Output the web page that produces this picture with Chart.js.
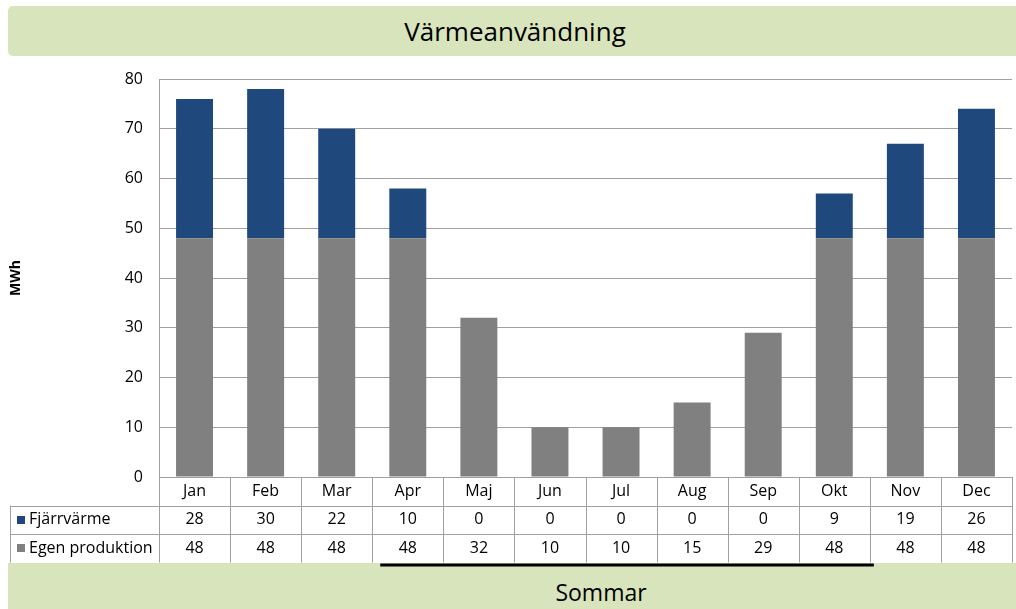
<!DOCTYPE html>
<html>
<head>
<meta charset="utf-8">
<script src="https://cdn.jsdelivr.net/npm/chart.js@4"></script>
<style>
  body { margin: 0; background: #fff; }
  #wrap { position: relative; width: 1016px; height: 609px; overflow: hidden; }
  canvas { position: absolute; left: 0; top: 0; }
  .box {
    position: absolute; background: #D8E4BC; color: #000;
    font-family: "Open Sans", sans-serif; text-align: center;
  }
  #title { left: 8px; top: 6px; width: 1014px; height: 50px; line-height: 50px; font-size: 26px; border-radius: 5px; }
  #sommar { left: 8px; top: 563px; width: 1186px; height: 52px; line-height: 58px; font-size: 23px; }
</style>
</head>
<body>
<div id="wrap">
  <div class="box" id="title">Värmeanvändning</div>
  <div class="box" id="sommar">Sommar</div>
  <canvas id="chart" width="1016" height="609"></canvas>
</div>
<script>
// Data
const months = ['Jan', 'Feb', 'Mar', 'Apr', 'Maj', 'Jun', 'Jul', 'Aug', 'Sep', 'Okt', 'Nov', 'Dec'];
const fjarrvarme = [28, 30, 22, 10, 0, 0, 0, 0, 0, 9, 19, 26];
const egenProduktion = [48, 48, 48, 48, 32, 10, 10, 15, 29, 48, 48, 48];
const yTicks = [0, 10, 20, 30, 40, 50, 60, 70, 80];
const summerMonths = ['Apr', 'Okt'];

const FONT = '"Open Sans", sans-serif';
const LINE = '#a0a0a0';

// Tabell under diagrammet + y-axelns titel + sommarlinje
const dataTable = {
  id: 'dataTable',
  afterDraw(chart) {
    const ctx = chart.ctx;
    const xs = chart.scales.x;
    const area = chart.chartArea;
    const colW = (area.right - area.left) / months.length;
    const rows = [
      { label: 'Fjärrvärme', color: '#1F497D', values: fjarrvarme },
      { label: 'Egen produktion', color: '#808080', values: egenProduktion }
    ];
    const top = area.bottom;
    const rowH = 28.5;
    const tableLeft = 10;

    ctx.save();
    ctx.strokeStyle = LINE;
    ctx.lineWidth = 1;
    ctx.beginPath();
    // horisontella linjer
    ctx.moveTo(area.left, top + 0.5); ctx.lineTo(area.right, top + 0.5);
    for (let r = 1; r <= rows.length; r++) {
      const y = Math.round(top + r * rowH) + 0.5;
      ctx.moveTo(tableLeft, y); ctx.lineTo(area.right, y);
    }
    // vertikala linjer
    for (let i = 0; i <= months.length; i++) {
      const x = Math.round(area.left + i * colW) + 0.5;
      ctx.moveTo(x, top); ctx.lineTo(x, top + (rows.length + 1) * rowH);
    }
    ctx.moveTo(tableLeft + 0.5, top + rowH); ctx.lineTo(tableLeft + 0.5, top + (rows.length + 1) * rowH);
    ctx.stroke();

    ctx.fillStyle = '#000';
    ctx.font = '16px ' + FONT;
    ctx.textAlign = 'center';
    ctx.textBaseline = 'middle';
    months.forEach((m, i) => {
      const cx = xs.getPixelForValue(i);
      ctx.fillText(m, cx, top + rowH / 2);
      rows.forEach((row, r) => {
        ctx.fillText(String(row.values[i]), cx, top + (r + 1.5) * rowH);
      });
    });
    ctx.textAlign = 'left';
    rows.forEach((row, r) => {
      const cy = top + (r + 1.5) * rowH;
      ctx.fillStyle = row.color;
      ctx.fillRect(17, Math.round(cy - 4), 8, 8);
      ctx.fillStyle = '#000';
      ctx.fillText(row.label, 29, cy);
    });

    // Sommar-linje
    const i0 = months.indexOf(summerMonths[0]);
    const i1 = months.indexOf(summerMonths[1]);
    const x0 = xs.getPixelForValue(i0) - colW / 2 + 8;
    const x1 = xs.getPixelForValue(i1) + colW / 2 + 4;
    ctx.fillRect(x0, top + (rows.length + 1) * rowH + 1, x1 - x0, 3);

    // y-axelns titel
    ctx.translate(16, (area.top + area.bottom) / 2);
    ctx.rotate(-Math.PI / 2);
    ctx.textAlign = 'center';
    ctx.font = 'bold 14px ' + FONT;
    ctx.fillText('MWh', 0, 0);
    ctx.restore();
  }
};

new Chart(document.getElementById('chart'), {
  type: 'bar',
  data: {
    labels: months,
    datasets: [
      { label: 'Egen produktion', data: egenProduktion, backgroundColor: '#808080' },
      { label: 'Fjärrvärme', data: fjarrvarme, backgroundColor: '#1F497D' }
    ]
  },
  options: {
    responsive: false,
    animation: false,
    layout: { padding: { top: 79, left: 0, right: 4, bottom: 132 } },
    datasets: { bar: { barPercentage: 0.52, categoryPercentage: 1 } },
    plugins: { legend: { display: false }, tooltip: { enabled: false } },
    scales: {
      x: { stacked: true, display: false },
      y: {
        stacked: true,
        min: 0, max: 80,
        afterFit: s => { s.width = 159; },
        afterBuildTicks: s => { s.ticks = yTicks.map(v => ({ value: v })); },
        border: { display: true, color: LINE },
        grid: { color: LINE, drawTicks: false },
        ticks: { color: '#000', padding: 16, font: { family: FONT, size: 16 } }
      }
    }
  },
  plugins: [dataTable]
});
</script>
</body>
</html>
